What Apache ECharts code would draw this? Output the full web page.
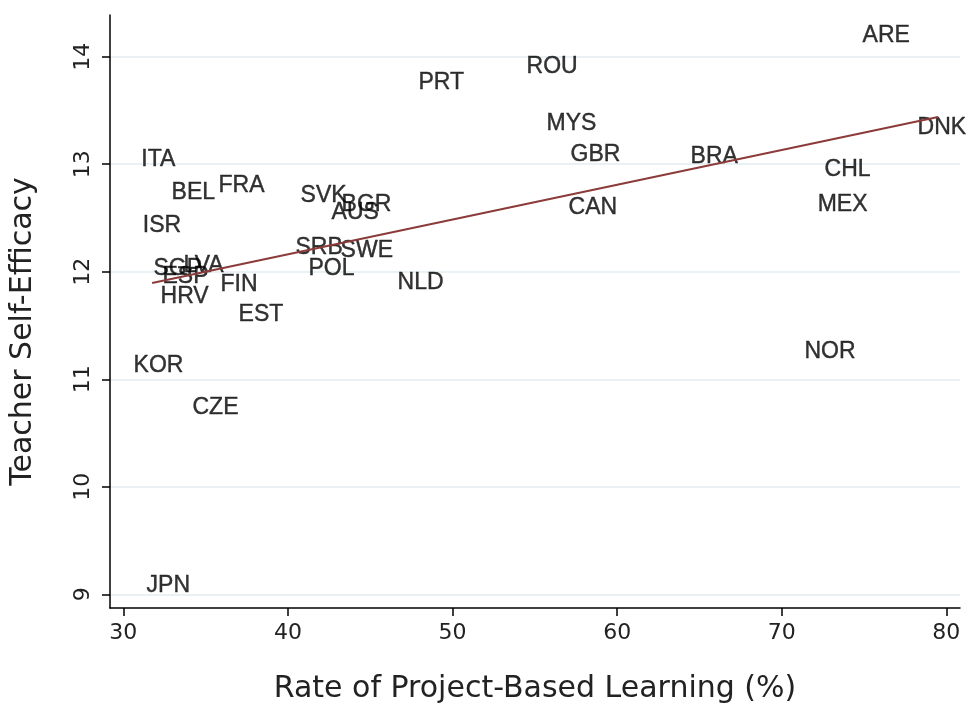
<!DOCTYPE html>
<html>
<head>
<meta charset="utf-8">
<title>Project-Based Learning vs Teacher Self-Efficacy</title>
<script src="https://cdn.jsdelivr.net/npm/echarts@6.0.0/dist/echarts.min.js"></script>
<style>
  html, body { margin: 0; padding: 0; background: #fff; }
  #chart { width: 973px; height: 705px; }
</style>
</head>
<body>
<div id="chart"></div>
<script>
  // country codes and their values
  var countries = ['ITA', 'BEL', 'FRA', 'ISR', 'SGP', 'LVA', 'ESP', 'HRV', 'FIN', 'EST',
                   'KOR', 'CZE', 'JPN', 'SVK', 'BGR', 'AUS', 'SRB', 'SWE', 'POL', 'NLD',
                   'ROU', 'PRT', 'MYS', 'GBR', 'CAN', 'BRA', 'CHL', 'MEX', 'ARE', 'DNK', 'NOR'];
  var pblRate = [31.06, 32.90, 35.75, 31.15, 31.80, 33.63, 32.35, 32.23, 35.87, 36.97,
                 30.59, 34.17, 31.38, 40.74, 43.23, 42.62, 40.43, 43.17, 41.22, 46.63,
                 54.47, 47.90, 55.68, 57.14, 57.02, 64.43, 72.57, 72.15, 74.88, 78.22, 71.35];
  var selfEfficacy = [13.04, 12.74, 12.80, 12.43, 12.03, 12.06, 11.95, 11.77, 11.88, 11.60,
                      11.13, 10.74, 9.08, 12.71, 12.62, 12.55, 12.22, 12.20, 12.03, 11.90,
                      13.91, 13.76, 13.38, 13.09, 12.60, 13.07, 12.95, 12.62, 14.20, 13.34, 11.26];

  // fitted line end points
  var fitX = [31.75, 79.49];
  var fitY = [11.895, 13.44];

  var xTicks = [30, 40, 50, 60, 70, 80];
  var yTicks = [9, 10, 11, 12, 13, 14];

  var chart = echarts.init(document.getElementById('chart'));

  var points = countries.map(function (c, i) {
    return { name: c, value: [pblRate[i], selfEfficacy[i]] };
  });
  var fitLine = fitX.map(function (x, i) { return [x, fitY[i]]; });

  chart.setOption({
    backgroundColor: '#fff',
    animation: false,
    grid: { left: 110, right: 13, top: 15, bottom: 97, outerBoundsMode: 'none' },
    xAxis: {
      type: 'value',
      min: 29.19,
      max: 80.83,
      name: 'Rate of Project-Based Learning (%)',
      nameLocation: 'middle',
      nameGap: 66,
      nameTextStyle: { fontFamily: 'DejaVu Sans', fontSize: 30, color: '#222' },
      axisLine: { show: true, lineStyle: { color: '#000', width: 1.5 } },
      axisTick: { show: true, length: 8, customValues: xTicks, lineStyle: { color: '#000', width: 1.5 } },
      axisLabel: { customValues: xTicks, margin: 14, fontFamily: 'DejaVu Sans', fontSize: 22, color: '#222' },
      splitLine: { show: false }
    },
    yAxis: {
      type: 'value',
      min: 8.873,
      max: 14.388,
      name: 'Teacher Self-Efficacy',
      nameLocation: 'middle',
      nameGap: 72,
      nameTextStyle: { fontFamily: 'DejaVu Sans', fontSize: 30, color: '#222', padding: [0, 40, 0, 0] },
      axisLine: { show: true, lineStyle: { color: '#000', width: 1.5 } },
      axisTick: { show: true, length: 8, customValues: yTicks, lineStyle: { color: '#000', width: 1.5 } },
      axisLabel: { customValues: yTicks, rotate: 90, margin: 16, fontFamily: 'DejaVu Sans', fontSize: 22, color: '#222' },
      splitLine: { show: true, lineStyle: { color: '#e2edf1', width: 1.5 } }
    },
    series: [
      {
        name: 'countries',
        type: 'scatter',
        data: points,
        symbolSize: 1,
        itemStyle: { color: 'rgba(0,0,0,0)' },
        label: {
          show: true,
          position: 'right',
          distance: 0,
          formatter: '{b}',
          fontFamily: 'Liberation Sans',
          fontSize: 23,
          color: '#000',
          textBorderColor: '#000',
          textBorderWidth: 0.4
        },
        z: 3
      },
      {
        name: 'fit',
        type: 'line',
        data: fitLine,
        symbol: 'none',
        lineStyle: { color: '#8c3a3a', width: 2 },
        z: 4
      }
    ]
  });
</script>
</body>
</html>
